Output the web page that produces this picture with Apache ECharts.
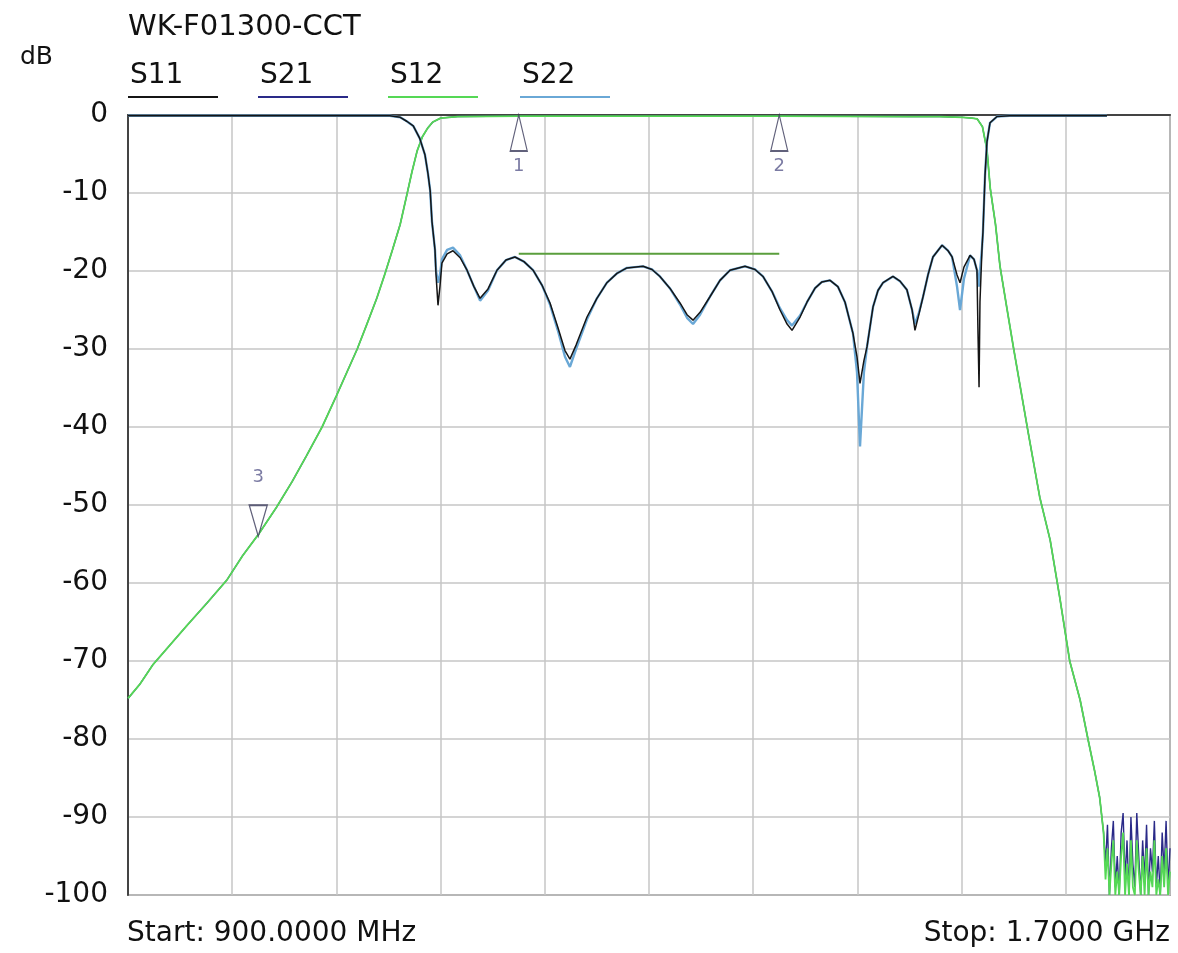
<!DOCTYPE html>
<html>
<head>
<meta charset="utf-8">
<script src="https://cdn.jsdelivr.net/npm/echarts@6/dist/echarts.min.js"></script>
<style>
  html, body { margin: 0; padding: 0; background: #fff; }
  #chart { width: 1178px; height: 953px; }
</style>
</head>
<body>
<div id="chart"></div>
<script>
// transmission (S21 / S12), MHz -> dB
const tFreq = [900, 909, 919, 932, 945, 961, 976, 988, 1000, 1014, 1026, 1037, 1049, 1060, 1076, 1083, 1091, 1097, 1103, 1109,
  1114, 1118, 1122, 1126, 1130, 1134, 1140, 1153, 1200, 1300, 1400, 1500, 1523, 1541, 1548, 1552, 1556, 1559.5, 1562, 1566,
  1569.5, 1575, 1580, 1591, 1600, 1608, 1615.5, 1623, 1631, 1637, 1642, 1646, 1649]
const s12 = [-74.8, -73, -70.5, -68, -65.5, -62.5, -59.6, -56.5, -53.8, -50.3, -47, -43.7, -40, -36, -30, -27, -23.5, -20.5, -17.3, -14,
  -10.3, -7.3, -4.6, -2.8, -1.7, -0.9, -0.4, -0.2, -0.15, -0.15, -0.15, -0.2, -0.2, -0.3, -0.4, -0.5, -1.5, -4.5, -9.4, -14,
  -19.4, -25, -30, -40.6, -49, -54.5, -62, -70, -75, -80, -84, -87.5, -92]

// noise floor at the top end of the sweep
const noiseFreq = [1650.5, 1652, 1653.5, 1655, 1656.5, 1658, 1659.5, 1661, 1662.5, 1664, 1665.5, 1667, 1668.5, 1670, 1671.5, 1673, 1674.5,
  1676, 1677.5, 1679, 1680.5, 1682, 1683.5, 1685, 1686.5, 1688, 1689.5, 1691, 1692.5, 1694, 1695.5, 1697, 1698.5, 1700]
const s21Noise = [-96, -91, -100, -94, -90.5, -99, -95, -100, -92, -89.5, -98, -93, -100, -90, -96, -99, -89.5,
  -95, -100, -93, -98, -91, -100, -94, -97, -90.5, -99, -95, -100, -92, -97, -90.5, -99, -94]
const s12Noise = [-98, -94, -100, -96, -93, -100, -97, -100, -95, -92, -100, -96, -100, -93, -99, -100, -93,
  -97, -100, -95, -100, -94, -100, -97, -99, -93, -100, -98, -100, -95, -99, -94, -100, -97]

// return loss (S11 / S22)
const rlFreq = [900, 1000, 1101, 1109, 1114, 1119, 1124, 1128, 1130.3, 1132,
  1133.4, 1135.7, 1136.5, 1138, 1139.5, 1141, 1145, 1149.5, 1155, 1160.3,
  1165.6, 1170.3, 1176.4, 1183.3, 1190.2, 1197.1, 1204, 1211, 1217.8, 1224,
  1230, 1235.5, 1239.3, 1244, 1252.4, 1260, 1267.7, 1275.4, 1283, 1295.4,
  1302.3, 1308.4, 1316, 1323.8, 1329.2, 1333.8, 1339.2, 1346.8, 1354.5, 1362.2,
  1373.7, 1381.4, 1387.5, 1394.4, 1400.6, 1406, 1409.8, 1416, 1421.3, 1427.5,
  1432.8, 1439, 1445, 1450.5, 1456.6, 1459.7, 1462, 1465, 1467.4, 1472,
  1475.8, 1479.7, 1487.3, 1492.7, 1498, 1502, 1504.2, 1507.3, 1510.4, 1514.2,
  1518, 1525, 1529.6, 1532.7, 1536.5, 1538.8, 1541.8, 1546.5, 1549.5, 1551.8,
  1552.6, 1553.4, 1554.1, 1555.7, 1556.4, 1558, 1559.5, 1561.8, 1567.2, 1577,
  1651.6]
const s11 = [-0.1, -0.1, -0.1, -0.3, -0.8, -1.4, -3, -5.1, -7.5, -9.7,
  -13.7, -17.3, -20.5, -24.4, -22, -19, -17.8, -17.4, -18.3, -19.9,
  -22, -23.5, -22.3, -19.9, -18.6, -18.2, -18.8, -19.9, -21.8, -24.1,
  -27.2, -30.2, -31.3, -29.5, -25.9, -23.5, -21.5, -20.3, -19.6, -19.4,
  -19.8, -20.7, -22.2, -24.1, -25.6, -26.3, -25.3, -23.3, -21.2, -19.9,
  -19.4, -19.8, -20.7, -22.6, -25, -26.8, -27.6, -25.9, -24, -22.2,
  -21.4, -21.2, -22, -24, -28, -31, -34.4, -31.5, -29.7, -24.6,
  -22.5, -21.5, -20.7, -21.3, -22.4, -25, -27.6, -25.5, -23.3, -20.5,
  -18.2, -16.7, -17.4, -18.2, -20.5, -21.5, -19.5, -18, -18.5, -19.9,
  -28, -34.9, -24, -17, -15, -7.7, -3.4, -1, -0.2, -0.1,
  -0.1]
const s22 = [-0.1, -0.1, -0.1, -0.3, -0.8, -1.4, -3, -5.1, -7.5, -9.7,
  -13.7, -17.3, -20, -21.5, -20.5, -18.5, -17.3, -17, -18, -19.9,
  -22, -23.8, -22.5, -19.9, -18.6, -18.2, -18.8, -19.9, -21.8, -24.3,
  -27.6, -31, -32.3, -30, -26.2, -23.5, -21.5, -20.3, -19.6, -19.4,
  -19.8, -20.7, -22.2, -24.3, -26, -26.8, -25.6, -23.3, -21.2, -19.9,
  -19.4, -19.8, -20.7, -22.6, -24.8, -26.3, -27, -25.7, -24, -22.2,
  -21.4, -21.2, -22, -24, -28, -33, -42.5, -33, -29.7, -24.6,
  -22.5, -21.5, -20.7, -21.3, -22.4, -25, -26.8, -25.3, -23.3, -20.5,
  -18.2, -16.7, -17.4, -18.2, -22, -25, -21, -18, -18.5, -19.9,
  -21, -22, -20, -17, -15, -7.7, -3.4, -1, -0.2, -0.1,
  -0.1]

const limitFreq = [1200, 1400]
const limitDb = [-17.8, -17.8]

const markerFreq = [1200, 1400, 1000]
const markerDb = [0, 0, -54]
const markerName = ['1', '2', '3']

const yTicks = [0, -10, -20, -30, -40, -50, -60, -70, -80, -90, -100]

const FONT = 'DejaVu Sans'
const TEXT = '#111'
const zip = (xs, ys) => xs.map((x, i) => [x, ys[i]])

const chart = echarts.init(document.getElementById('chart'), null, { renderer: 'canvas' })

const upTri = 'path://M5,0 L10,20 L0,20 Z'
const downTri = 'path://M0,0 L10,0 L5,20 Z'

const markerData = markerFreq.map((f, i) => {
  const down = markerDb[i] < -1
  return {
    value: [f, markerDb[i]],
    name: markerName[i],
    symbol: down ? downTri : upTri,
    symbolSize: down ? [18, 31] : [17, 36],
    symbolOffset: down ? [0, -15.5] : [0, 18],
    label: {
      position: down ? 'top' : 'bottom',
      distance: down ? 18 : 5
    }
  }
})

const legendItems = [
  { name: 'S11', x: 128, color: '#151515' },
  { name: 'S21', x: 258, color: '#2a2a88' },
  { name: 'S12', x: 388, color: '#55d855' },
  { name: 'S22', x: 520, color: '#6aa8d6' }
]

const graphics = [
  { type: 'text', left: 128, top: 13, style: { text: 'WK-F01300-CCT', font: '29px ' + FONT, fill: TEXT } },
  { type: 'text', left: 20, top: 45, style: { text: 'dB', font: '25px ' + FONT, fill: TEXT } },
  { type: 'text', left: 127, top: 920, style: { text: 'Start: 900.0000 MHz', font: '28px ' + FONT, fill: TEXT } },
  { type: 'text', right: 8, top: 920, style: { text: 'Stop: 1.7000 GHz', font: '28px ' + FONT, fill: TEXT } }
]
legendItems.forEach(item => {
  graphics.push({ type: 'text', left: item.x + 2, top: 62, style: { text: item.name, font: '28px ' + FONT, fill: TEXT } })
  graphics.push({
    type: 'line',
    shape: { x1: item.x, y1: 97, x2: item.x + 90, y2: 97 },
    style: { stroke: item.color, lineWidth: 2 }
  })
})

const lineSeries = (name, data, color, width, z) => ({
  name,
  type: 'line',
  data,
  showSymbol: false,
  symbol: 'none',
  animation: false,
  z,
  lineStyle: { color, width },
  itemStyle: { color }
})

chart.setOption({
  animation: false,
  backgroundColor: '#fff',
  grid: {
    left: 128,
    right: 8,
    top: 115,
    bottom: 58,
    show: true,
    borderColor: '#666',
    borderWidth: 1.5
  },
  xAxis: [
    {
      type: 'value',
      min: 900,
      max: 1700,
      axisLabel: { show: false },
      axisTick: { show: false },
      axisLine: { show: true, lineStyle: { color: '#444', width: 2 } },
      splitLine: { show: false }
    },
    {
      // grid divisions, counted from the start frequency
      type: 'value',
      position: 'top',
      min: 0,
      max: 800,
      interval: 80,
      axisLabel: { show: false },
      axisTick: { show: false },
      axisLine: { show: false },
      splitLine: { show: true, lineStyle: { color: '#c6c6c6', width: 1.5 } }
    }
  ],
  yAxis: {
    type: 'value',
    min: -100,
    max: 0,
    interval: 10,
    axisTick: { show: false },
    axisLine: { show: true, lineStyle: { color: '#444', width: 2 } },
    axisLabel: {
      margin: 20,
      fontSize: 28,
      fontFamily: FONT,
      color: TEXT,
      formatter: v => (yTicks.includes(v) ? String(v) : '')
    },
    splitLine: { show: true, lineStyle: { color: '#c6c6c6', width: 1.5 } }
  },
  graphic: graphics,
  series: [
    lineSeries('S21', zip(tFreq, s12).concat(zip(noiseFreq, s21Noise)), '#2a2a88', 1.4, 3),
    lineSeries('S12', zip(tFreq, s12).concat(zip(noiseFreq, s12Noise)), '#55d855', 1.8, 4),
    lineSeries('S22', zip(rlFreq, s22), '#6aa8d6', 2.4, 5),
    lineSeries('S11', zip(rlFreq, s11), '#151515', 1.5, 6),
    lineSeries('limit', zip(limitFreq, limitDb), '#5a9e3c', 2, 7),
    {
      name: 'markers',
      type: 'scatter',
      z: 8,
      animation: false,
      data: markerData,
      itemStyle: { color: '#fff', borderColor: '#3a3a5a', borderWidth: 1.5 },
      label: {
        show: true,
        formatter: p => p.name,
        color: '#5a5a8c',
        fontSize: 18,
        fontFamily: FONT
      }
    }
  ]
})

window.addEventListener('resize', () => chart.resize())
</script>
</body>
</html>
